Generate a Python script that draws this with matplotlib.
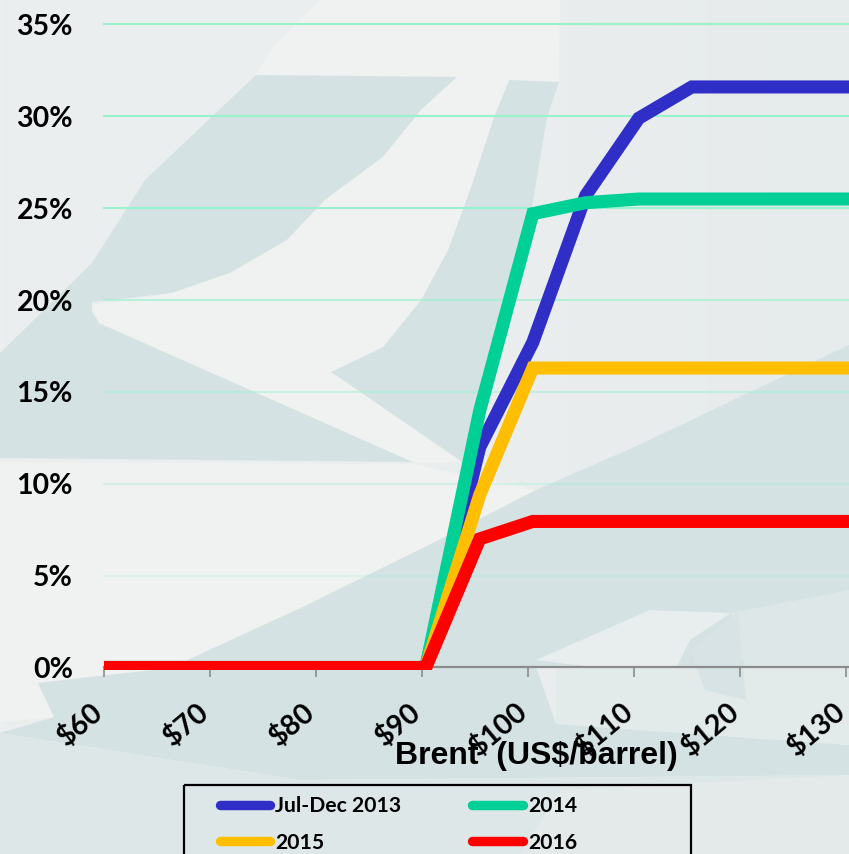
import matplotlib
matplotlib.use("Agg")
import matplotlib.pyplot as plt
from matplotlib.patches import Polygon, Rectangle
from matplotlib.transforms import Bbox, ScaledTranslation
import numpy as np

W, H = 849, 854
x_ticks = [60, 70, 80, 90, 100, 110, 120, 130]
x_labels = ["$60", "$70", "$80", "$90", "$100", "$110", "$120", "$130"]
y_ticks = [0, 5, 10, 15, 20, 25, 30, 35]
y_labels = ["0%", "5%", "10%", "15%", "20%", "25%", "30%", "35%"]

brent = [60, 70, 80, 90.4, 95.5, 100.5, 105.5, 110.5, 115.5, 120.5, 125.5, 130.5, 135.5]
jul_dec_2013 = [0, 0, 0, 0, 12.0, 17.7, 25.7, 29.9, 31.6, 31.6, 31.6, 31.6, 31.6]
y2014 = [0, 0, 0, 0, 14.0, 24.7, 25.3, 25.5, 25.5, 25.5, 25.5, 25.5, 25.5]
y2015 = [0, 0, 0, 0, 9.4, 16.3, 16.3, 16.3, 16.3, 16.3, 16.3, 16.3, 16.3]
y2016 = [0, 0, 0, 0, 7.0, 7.95, 7.95, 7.95, 7.95, 7.95, 7.95, 7.95, 7.95]

series = [("Jul-Dec 2013", jul_dec_2013, "#2f2fc8"),
          ("2014", y2014, "#00cf96"),
          ("2015", y2015, "#ffbf00"),
          ("2016", y2016, "#ff0000")]

fig = plt.figure(figsize=((W + 0.01) / 100, (H + 0.01) / 100), dpi=100)

# faded background picture, in pixel coordinates
bg = fig.add_axes([0, 0, 1, 1], zorder=0)
bg.set_xlim(0, W)
bg.set_ylim(H, 0)
bg.axis("off")
grad = np.linspace(0, 1, 256).reshape(1, -1)
cmap = matplotlib.colors.LinearSegmentedColormap.from_list("bg", ["#eceff0", "#ebeeee", "#e6ebeb"])
bg.imshow(grad, extent=[0, W, H, 0], aspect="auto", cmap=cmap, zorder=0)
dark = "#d4e2e3"
white = "#f0f1f1"
shapes = [
    ([(320, 0), (560, 0), (559, 82), (256, 75), (270, 50)], white),
    ([(256, 75), (457, 77), (421, 110), (383, 157), (325, 200), (287, 240), (230, 273),
      (172, 293), (92, 302), (92, 312), (99, 323), (413, 462), (0, 458), (0, 353),
      (92, 263), (145, 180)], dark),
    ([(509, 80), (559, 82), (547, 117), (532, 207), (509, 300), (482, 383), (462, 462),
      (331, 372), (383, 347), (421, 300), (448, 250), (471, 187), (494, 117)], dark),
    ([(92, 305), (172, 293), (230, 273), (287, 240), (325, 200), (383, 157), (421, 110),
      (457, 77), (509, 80), (494, 117), (471, 187), (448, 250), (421, 300), (383, 347),
      (331, 372), (462, 462), (413, 462), (99, 323)], white),
    ([(0, 462), (413, 464), (536, 490), (433, 543), (303, 607), (170, 668), (38, 683),
      (54, 717), (0, 722)], white),
    ([(170, 668), (303, 607), (433, 543), (536, 490), (639, 445), (849, 345), (849, 667),
      (536, 667)], dark),
    ([(536, 660), (650, 610), (731, 613), (690, 640), (676, 668), (600, 668)], "#e8eeee"),
    ([(731, 613), (849, 590), (849, 668), (745, 668)], "#dde7e8"),
    ([(38, 683), (170, 668), (536, 667), (556, 724), (849, 745), (849, 775), (300, 780),
      (0, 733), (54, 717)], dark),
    ([(0, 733), (300, 780), (849, 775), (849, 854), (0, 854)], "#dde7e7"),
    ([(520, 854), (560, 790), (849, 775), (849, 854)], "#e4eaea"),
    ([(556, 668), (676, 668), (745, 668), (849, 668), (849, 745), (556, 724)], "#e3eaea"),
    ([(690, 650), (738, 612), (746, 700), (705, 690)], "#d7e3e4"),
]
for pts, col in shapes:
    bg.add_patch(Polygon(pts, closed=True, fc=col, ec="none", zorder=1))

bg.add_patch(Rectangle((183.5, 785), 507.5, 100, fc="none", ec="black", lw=1.6, zorder=2))

x0, x1 = 103.5, 849
y_bottom, y_top = 667.5, 24.5
ax = fig.add_axes([x0 / W, 1 - y_bottom / H, (x1 - x0) / W, (y_bottom - y_top) / H], zorder=2)
ax.patch.set_alpha(0)
ax.set_xlim(60, 60 + (x1 - x0) / 10.6)
ax.set_ylim(0, 35)
for s in ["top", "right", "left"]:
    ax.spines[s].set_visible(False)
ax.spines["bottom"].set_color("#8c8c8c")
ax.spines["bottom"].set_linewidth(1.6)

grid_alpha = [0, 0.22, 0.3, 0.45, 0.65, 0.95, 1, 1]
for v, a in zip(y_ticks, grid_alpha):
    if v:
        ax.axhline(v, color="#98f3cd", lw=1.5, alpha=a, zorder=1, clip_on=False)

clip = Bbox([[x0, H - 670], [W, H]])
for name, vals, col in series:
    line, = ax.plot(brent, vals, color=col, lw=9.4, label=name, solid_joinstyle="miter",
                    solid_capstyle="butt", zorder=3)
    line.set_clip_path(None)
    line.set_clip_box(clip)

ax.set_xticks(x_ticks)
ax.set_xticklabels(x_labels, fontfamily="Lato", fontweight="bold", fontsize=20.5,
                   rotation=40, ha="right", va="top", color="black")
ax.tick_params(axis="x", length=7.5, width=1.2, color="#8c8c8c", pad=15)
shift = ScaledTranslation(3 / 72, 0, fig.dpi_scale_trans)
for lab in ax.get_xticklabels():
    lab.set_transform(lab.get_transform() + shift)
ax.set_yticks(y_ticks)
ax.set_yticklabels(y_labels, fontfamily="Lato", fontweight="bold", fontsize=20.5, color="black")
ax.tick_params(axis="y", length=0, pad=22)

fig.text(536 / W, 1 - 756 / H, "Brent  (US$/barrel)", fontfamily="Liberation Sans",
         fontweight="bold", fontsize=23, ha="center", va="center", color="black", zorder=5)

h, l = ax.get_legend_handles_labels()
order = [0, 2, 1, 3]
leg = fig.legend([h[i] for i in order], [l[i] for i in order], ncol=2, loc="upper left",
                 bbox_to_anchor=(219.5 / W, 1 - 796 / H), borderaxespad=0,
                 prop={"family": "Lato", "weight": "bold", "size": 15.2},
                 frameon=False, handlelength=2.4, handletextpad=0.25, columnspacing=3.35,
                 borderpad=0, labelspacing=0.8)
leg.set_zorder(6)
for hl in leg.get_lines():
    hl.set_linewidth(6.8)
    hl.set_solid_capstyle("round")

fig.savefig("out.png", dpi=100)
